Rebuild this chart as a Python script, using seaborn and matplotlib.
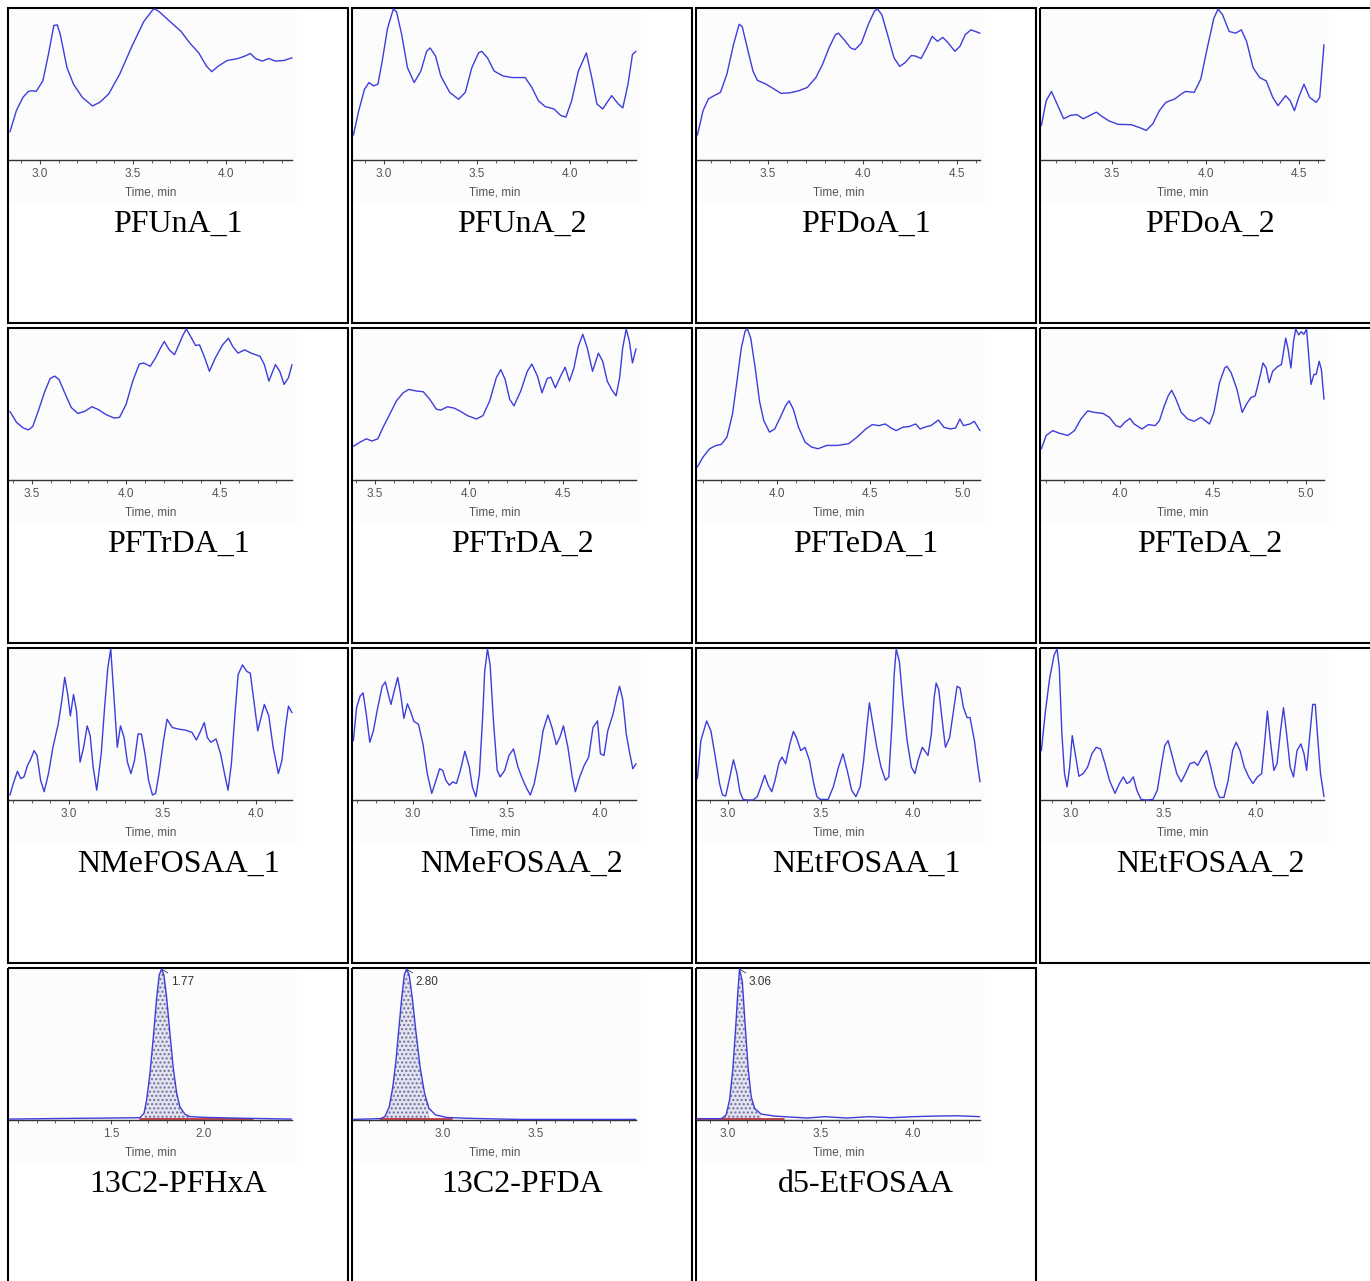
import matplotlib
matplotlib.use("Agg")
import matplotlib.pyplot as plt
from matplotlib.patches import Rectangle
from matplotlib.ticker import FixedLocator, MultipleLocator, FormatStrFormatter
import numpy as np
import seaborn as sns

# traces: time (min), intensity (% of panel max)
pfuna1_t = [2.838, 2.873, 2.908, 2.937, 2.956, 2.979, 3.015, 3.045, 3.074, 3.093, 3.109, 3.145, 3.180, 3.227,
            3.282, 3.321, 3.369, 3.428, 3.498, 3.558, 3.605, 3.617, 3.640, 3.699, 3.758, 3.805, 3.853, 3.895,
            3.923, 3.959, 4.006, 4.065, 4.101, 4.131, 4.159, 4.195, 4.230, 4.265, 4.312, 4.355]
pfuna1_i = [18.6, 32.8, 41.5, 45.4, 45.9, 45.4, 52.4, 69.9, 89.1, 89.5, 83.0, 61.1, 50.2, 41.5,
            35.8, 38.2, 43.7, 56.8, 76.4, 91.7, 99.3, 100, 98.3, 91.7, 85.2, 77.5, 71.0, 62.2,
            58.5, 62.2, 65.9, 67.2, 68.8, 70.5, 67.2, 65.5, 67.2, 65.5, 65.9, 67.7]

pfuna2_t = [2.835, 2.864, 2.895, 2.919, 2.943, 2.967, 2.990, 3.019, 3.050, 3.067, 3.095, 3.126, 3.162, 3.198,
            3.229, 3.248, 3.277, 3.305, 3.353, 3.401, 3.437, 3.472, 3.508, 3.525, 3.556, 3.592, 3.639, 3.687,
            3.759, 3.795, 3.830, 3.866, 3.914, 3.950, 3.978, 4.009, 4.045, 4.088, 4.117, 4.145, 4.176, 4.224,
            4.260, 4.284, 4.312, 4.336, 4.355]
pfuna2_i = [16.4, 32.7, 46.9, 51.3, 49.1, 50.2, 65.5, 87.3, 100, 98.2, 83.0, 61.1, 51.3, 58.9,
            72.0, 74.2, 68.8, 55.7, 44.8, 40.2, 44.8, 61.1, 70.9, 72.0, 67.7, 58.9, 55.7, 54.6,
            54.6, 48.0, 39.3, 35.4, 33.8, 29.5, 28.4, 39.3, 58.9, 70.9, 54.6, 37.1, 33.8, 42.6,
            37.1, 34.5, 50.2, 69.9, 72.0]

pfdoa1_t = [3.126, 3.156, 3.184, 3.214, 3.248, 3.282, 3.317, 3.347, 3.363, 3.386, 3.420, 3.443, 3.489, 3.524,
            3.569, 3.615, 3.661, 3.707, 3.753, 3.788, 3.822, 3.856, 3.872, 3.902, 3.937, 3.960, 3.994, 4.029,
            4.063, 4.079, 4.102, 4.132, 4.166, 4.196, 4.224, 4.258, 4.281, 4.309, 4.339, 4.368, 4.396, 4.424,
            4.453, 4.488, 4.515, 4.543, 4.573, 4.621]
pfdoa1_i = [16.4, 32.7, 40.4, 42.6, 44.8, 56.8, 76.4, 89.9, 88.4, 76.4, 58.9, 52.8, 50.2, 47.6,
            44.1, 44.5, 45.8, 48.0, 54.6, 63.3, 74.2, 83.0, 84.0, 79.7, 74.2, 73.1, 77.5, 89.5,
            98.7, 100, 96.1, 83.0, 67.7, 62.0, 64.4, 69.2, 68.8, 67.2, 74.2, 81.9, 78.6, 81.2,
            77.5, 72.0, 75.3, 83.0, 86.2, 84.0]

pfdoa2_t = [3.122, 3.148, 3.176, 3.206, 3.241, 3.276, 3.311, 3.346, 3.381, 3.416, 3.451, 3.485, 3.532, 3.602,
            3.648, 3.683, 3.718, 3.753, 3.788, 3.835, 3.870, 3.893, 3.939, 3.974, 4.009, 4.044, 4.067, 4.091,
            4.126, 4.161, 4.191, 4.219, 4.254, 4.289, 4.324, 4.359, 4.387, 4.428, 4.452, 4.475, 4.498, 4.526,
            4.556, 4.591, 4.610, 4.633]
pfdoa2_i = [22.9, 39.3, 45.4, 37.1, 27.3, 29.5, 30.1, 27.3, 29.5, 31.7, 28.4, 25.8, 23.6, 23.4,
            21.4, 19.6, 24.0, 32.7, 38.2, 40.4, 43.7, 45.4, 44.8, 53.5, 74.2, 93.9, 100, 96.1,
            85.1, 84.0, 86.2, 78.6, 61.1, 54.6, 52.4, 41.5, 36.0, 42.6, 39.3, 32.7, 41.5, 50.2,
            41.5, 38.2, 41.5, 76.4]

pftrda1_t = [3.383, 3.418, 3.453, 3.481, 3.504, 3.534, 3.569, 3.597, 3.621, 3.644, 3.674, 3.709, 3.744, 3.779,
             3.819, 3.849, 3.896, 3.938, 3.966, 4.001, 4.036, 4.071, 4.094, 4.129, 4.157, 4.188, 4.204, 4.230,
             4.258, 4.281, 4.304, 4.321, 4.344, 4.370, 4.391, 4.416, 4.444, 4.475, 4.514, 4.545, 4.568, 4.596,
             4.631, 4.666, 4.713, 4.736, 4.760, 4.795, 4.818, 4.841, 4.864, 4.883]
pftrda1_i = [45.4, 38.2, 34.5, 33.2, 35.4, 45.8, 58.9, 67.2, 68.8, 66.6, 57.8, 48.0, 44.1, 45.4,
             48.5, 46.9, 43.2, 41.0, 41.5, 50.2, 65.5, 76.8, 77.5, 75.3, 80.8, 88.4, 91.7, 86.2,
             83.0, 89.5, 96.1, 100, 95.0, 89.1, 89.5, 81.9, 72.0, 80.8, 89.5, 93.9, 88.4, 84.0,
             86.2, 84.0, 81.9, 76.4, 65.5, 76.4, 72.0, 63.3, 67.7, 76.4]

pftrda2_t = [3.385, 3.421, 3.454, 3.484, 3.515, 3.543, 3.579, 3.614, 3.650, 3.680, 3.720, 3.756, 3.791, 3.826,
             3.850, 3.885, 3.921, 3.956, 3.992, 4.039, 4.074, 4.110, 4.145, 4.169, 4.192, 4.216, 4.239, 4.275,
             4.310, 4.334, 4.364, 4.388, 4.416, 4.435, 4.459, 4.487, 4.511, 4.534, 4.558, 4.581, 4.605, 4.629,
             4.657, 4.688, 4.711, 4.735, 4.758, 4.782, 4.801, 4.817, 4.836, 4.853, 4.869, 4.888]
pftrda2_i = [22.3, 25.1, 27.3, 25.8, 27.3, 34.9, 43.7, 52.4, 57.8, 60.0, 58.9, 58.5, 53.5, 46.9,
             46.3, 48.5, 47.6, 45.4, 42.6, 40.4, 42.6, 52.4, 67.7, 73.1, 66.6, 53.5, 49.1, 58.9,
             72.0, 76.8, 68.8, 57.8, 67.2, 68.1, 61.1, 68.8, 74.7, 65.5, 74.2, 88.4, 96.5, 87.3,
             72.0, 84.0, 78.6, 65.5, 60.0, 55.7, 67.7, 87.3, 100, 91.7, 77.5, 86.9]

pfteda1_t = [3.572, 3.603, 3.638, 3.673, 3.701, 3.731, 3.761, 3.785, 3.808, 3.829, 3.841, 3.859, 3.883, 3.906,
             3.929, 3.960, 3.988, 4.018, 4.046, 4.065, 4.088, 4.116, 4.151, 4.186, 4.221, 4.268, 4.326, 4.385,
             4.431, 4.478, 4.513, 4.548, 4.583, 4.613, 4.641, 4.676, 4.711, 4.746, 4.770, 4.805, 4.828, 4.868,
             4.898, 4.933, 4.961, 4.984, 5.003, 5.038, 5.061, 5.092]
pfteda1_i = [8.7, 15.3, 20.7, 22.9, 23.6, 28.4, 43.7, 65.5, 87.3, 98.7, 100, 93.9, 74.2, 52.4,
             39.3, 31.7, 33.8, 41.5, 49.1, 52.4, 46.9, 34.9, 25.1, 21.8, 20.7, 22.9, 22.9, 24.0,
             28.4, 33.8, 36.7, 36.0, 37.1, 34.5, 32.7, 34.9, 35.4, 37.1, 33.8, 35.4, 36.0, 39.7,
             34.9, 33.8, 34.5, 40.4, 36.0, 37.1, 38.9, 32.7]

pfteda2_t = [3.577, 3.603, 3.638, 3.673, 3.720, 3.755, 3.790, 3.826, 3.861, 3.908, 3.943, 3.978, 4.001, 4.025,
             4.053, 4.076, 4.118, 4.153, 4.189, 4.212, 4.235, 4.259, 4.278, 4.301, 4.329, 4.364, 4.399, 4.435,
             4.458, 4.481, 4.505, 4.535, 4.563, 4.575, 4.598, 4.629, 4.657, 4.680, 4.704, 4.727, 4.751, 4.769,
             4.786, 4.802, 4.821, 4.849, 4.868, 4.891, 4.903, 4.919, 4.933, 4.945, 4.961, 4.975, 4.989, 5.003,
             5.013, 5.027, 5.043, 5.055, 5.071, 5.083, 5.097]
pfteda2_i = [20.7, 29.5, 32.7, 31.0, 29.5, 32.7, 40.4, 45.8, 44.8, 44.1, 41.5, 36.0, 34.9, 38.2,
             40.8, 37.1, 33.8, 36.7, 36.0, 39.3, 48.0, 55.7, 59.4, 53.5, 44.8, 40.4, 38.9, 41.5,
             39.3, 37.1, 44.8, 64.4, 74.2, 75.3, 70.9, 60.0, 44.8, 50.2, 54.6, 55.7, 67.7, 77.5,
             74.2, 64.4, 72.0, 75.3, 76.4, 93.9, 87.3, 74.2, 91.7, 100, 96.1, 98.2, 96.5, 100,
             85.1, 63.3, 69.9, 69.9, 78.6, 73.1, 53.5]

nmefosaa1_t = [2.684, 2.702, 2.724, 2.742, 2.759, 2.778, 2.796, 2.813, 2.829, 2.848, 2.867, 2.890, 2.914, 2.942,
               2.961, 2.977, 2.993, 3.007, 3.024, 3.040, 3.059, 3.078, 3.097, 3.113, 3.129, 3.148, 3.172, 3.190,
               3.207, 3.223, 3.237, 3.258, 3.275, 3.294, 3.312, 3.331, 3.350, 3.369, 3.387, 3.406, 3.425, 3.446,
               3.463, 3.481, 3.505, 3.524, 3.552, 3.587, 3.622, 3.657, 3.681, 3.704, 3.723, 3.739, 3.758, 3.786,
               3.810, 3.833, 3.850, 3.868, 3.887, 3.904, 3.927, 3.951, 3.969, 3.986, 4.009, 4.044, 4.068, 4.091,
               4.119, 4.138, 4.157, 4.173, 4.192]
nmefosaa1_i = [3.3, 10.9, 19.0, 14.2, 15.3, 22.9, 27.3, 32.7, 29.5, 13.1, 5.5, 17.5, 34.9, 50.2,
               65.5, 81.2, 69.9, 55.7, 69.9, 58.9, 25.1, 34.9, 49.1, 42.6, 21.8, 6.5, 30.6, 61.1,
               87.3, 100, 74.2, 34.9, 49.1, 41.5, 25.1, 17.5, 26.2, 43.7, 43.7, 30.6, 13.1, 3.3,
               4.4, 17.5, 39.3, 53.5, 48.0, 46.9, 46.3, 44.8, 39.7, 45.8, 51.3, 41.5, 38.2, 40.4,
               30.6, 16.4, 6.5, 24.0, 56.8, 83.0, 89.5, 85.1, 84.0, 67.7, 45.8, 63.3, 55.7, 34.9,
               17.5, 26.2, 48.0, 62.2, 57.8]

nmefosaa2_t = [2.681, 2.698, 2.717, 2.733, 2.750, 2.769, 2.788, 2.811, 2.835, 2.852, 2.868, 2.882, 2.899, 2.918,
               2.934, 2.951, 2.970, 2.986, 3.005, 3.029, 3.053, 3.076, 3.100, 3.123, 3.142, 3.159, 3.175, 3.194,
               3.213, 3.232, 3.253, 3.277, 3.301, 3.317, 3.336, 3.355, 3.372, 3.383, 3.398, 3.412, 3.431, 3.450,
               3.466, 3.490, 3.513, 3.537, 3.561, 3.584, 3.608, 3.627, 3.648, 3.672, 3.695, 3.721, 3.743, 3.766,
               3.785, 3.804, 3.828, 3.851, 3.868, 3.891, 3.915, 3.939, 3.962, 3.986, 4.002, 4.021, 4.041, 4.069,
               4.088, 4.104, 4.121, 4.140, 4.159, 4.175, 4.192]
nmefosaa2_i = [39.3, 61.1, 68.8, 70.9, 56.8, 38.2, 45.8, 61.1, 75.3, 78.2, 69.9, 63.3, 72.0, 81.2,
               69.9, 54.1, 63.7, 58.9, 52.0, 50.2, 37.1, 17.5, 4.4, 13.1, 20.7, 19.6, 13.1, 9.8,
               12.0, 10.9, 19.6, 32.3, 21.8, 8.7, 2.2, 17.5, 54.6, 85.1, 100, 89.5, 50.2, 19.6,
               15.3, 19.6, 29.5, 33.8, 21.8, 14.2, 7.6, 3.3, 10.9, 26.2, 45.8, 56.3, 48.0, 36.7,
               41.5, 49.1, 34.9, 15.3, 5.5, 15.3, 22.9, 28.4, 48.0, 52.4, 30.6, 29.5, 45.8, 56.8,
               67.7, 75.3, 66.6, 43.7, 30.6, 20.7, 24.0]

netfosaa1_t = [2.834, 2.853, 2.884, 2.907, 2.931, 2.954, 2.970, 2.987, 3.006, 3.029, 3.048, 3.064, 3.081, 3.100,
               3.135, 3.158, 3.177, 3.198, 3.217, 3.236, 3.254, 3.276, 3.292, 3.311, 3.334, 3.353, 3.369, 3.393,
               3.416, 3.440, 3.463, 3.480, 3.499, 3.541, 3.569, 3.597, 3.621, 3.644, 3.668, 3.691, 3.714, 3.733,
               3.752, 3.764, 3.780, 3.804, 3.827, 3.851, 3.869, 3.886, 3.898, 3.909, 3.926, 3.945, 3.968, 3.991,
               4.010, 4.027, 4.050, 4.081, 4.099, 4.114, 4.125, 4.139, 4.156, 4.175, 4.198, 4.221, 4.238, 4.254,
               4.273, 4.292, 4.308, 4.332, 4.348, 4.362]
netfosaa1_i = [14.2, 39.3, 52.4, 45.8, 28.4, 10.9, 3.3, 2.6, 13.1, 26.6, 17.5, 5.5, 0.4, 0.0,
               0.0, 2.2, 8.7, 16.4, 9.8, 5.5, 13.1, 25.1, 28.4, 24.0, 37.1, 45.4, 41.5, 32.7,
               34.9, 26.2, 10.9, 2.2, 0.4, 0.4, 8.7, 21.8, 30.6, 19.6, 6.5, 2.2, 8.7, 26.2,
               50.2, 64.4, 52.4, 34.9, 21.8, 13.1, 15.3, 50.2, 83.0, 100, 91.7, 65.5, 39.3, 21.8,
               17.5, 26.2, 34.9, 29.5, 43.7, 67.7, 77.5, 73.1, 54.6, 34.9, 41.5, 61.1, 75.3, 74.2,
               61.1, 54.6, 54.6, 39.3, 24.0, 12.0]

netfosaa2_t = [2.840, 2.862, 2.885, 2.909, 2.925, 2.937, 2.951, 2.965, 2.979, 2.993, 3.007, 3.026, 3.043, 3.066,
               3.090, 3.113, 3.137, 3.160, 3.184, 3.208, 3.238, 3.262, 3.283, 3.302, 3.318, 3.337, 3.356, 3.379,
               3.408, 3.443, 3.467, 3.490, 3.507, 3.525, 3.549, 3.572, 3.596, 3.619, 3.643, 3.667, 3.685, 3.709,
               3.733, 3.756, 3.780, 3.803, 3.827, 3.850, 3.874, 3.893, 3.914, 3.937, 3.961, 3.984, 4.008, 4.031,
               4.048, 4.062, 4.078, 4.097, 4.114, 4.133, 4.149, 4.166, 4.185, 4.203, 4.222, 4.243, 4.260, 4.274,
               4.290, 4.307, 4.321, 4.335, 4.349, 4.368]
netfosaa2_i = [32.7, 58.9, 80.8, 96.1, 100, 87.3, 43.7, 17.5, 8.7, 21.8, 42.6, 28.4, 15.7, 17.5,
               21.8, 30.6, 34.9, 33.8, 24.0, 13.1, 4.4, 10.9, 15.3, 10.9, 12.0, 15.3, 6.5, 0.4,
               0.0, 0.4, 6.5, 24.0, 36.0, 39.3, 28.4, 17.5, 12.0, 17.5, 24.0, 25.1, 22.9, 28.4,
               32.7, 21.8, 8.7, 1.7, 1.7, 13.1, 32.7, 38.2, 32.7, 21.8, 15.3, 10.9, 15.3, 17.5,
               39.3, 58.9, 39.3, 19.6, 24.0, 45.8, 61.1, 43.7, 21.8, 15.3, 32.7, 37.1, 30.6, 19.6,
               41.5, 63.3, 63.3, 39.3, 17.5, 2.2]

pfhxa_t = [0.955, 1.226, 1.656, 1.678, 1.692, 1.710, 1.728, 1.746, 1.760, 1.773, 1.785, 1.800, 1.818, 1.835,
           1.854, 1.871, 1.898, 1.925, 2.015, 2.156, 2.470]
pfhxa_i = [0.6, 1.0, 1.5, 4.4, 13.1, 30.6, 54.6, 80.8, 96.1, 100, 96.1, 80.8, 56.8, 34.9,
           17.5, 8.7, 3.9, 2.2, 1.7, 1.3, 0.6]

pfda_t = [2.518, 2.663, 2.687, 2.711, 2.730, 2.747, 2.763, 2.778, 2.792, 2.804, 2.818, 2.835, 2.854, 2.877,
          2.901, 2.925, 2.961, 3.020, 3.139, 3.401, 4.036]
pfda_i = [0.4, 0.9, 2.2, 8.7, 21.8, 39.3, 61.1, 80.8, 96.1, 100, 96.1, 80.8, 58.9, 34.9,
          17.5, 7.6, 3.3, 1.7, 1.1, 0.4, 0.4]

d5etfosaa_t = [2.834, 2.965, 2.989, 3.008, 3.025, 3.041, 3.053, 3.062, 3.077, 3.091, 3.108, 3.125, 3.144,
               3.179, 3.251, 3.370, 3.428, 3.523, 3.642, 3.761, 3.881, 4.000, 4.119, 4.238, 4.360]
d5etfosaa_i = [0.9, 0.9, 3.3, 13.1, 32.7, 61.1, 85.1, 100, 91.7, 65.5, 34.9, 15.3, 7.6,
               3.9, 2.6, 1.7, 1.3, 2.2, 1.3, 2.2, 1.5, 2.2, 2.6, 2.8, 2.2]

names = ["PFUnA_1", "PFUnA_2", "PFDoA_1", "PFDoA_2",
         "PFTrDA_1", "PFTrDA_2", "PFTeDA_1", "PFTeDA_2",
         "NMeFOSAA_1", "NMeFOSAA_2", "NEtFOSAA_1", "NEtFOSAA_2",
         "13C2-PFHxA", "13C2-PFDA", "d5-EtFOSAA"]
traces = [(pfuna1_t, pfuna1_i), (pfuna2_t, pfuna2_i), (pfdoa1_t, pfdoa1_i), (pfdoa2_t, pfdoa2_i),
          (pftrda1_t, pftrda1_i), (pftrda2_t, pftrda2_i), (pfteda1_t, pfteda1_i), (pfteda2_t, pfteda2_i),
          (nmefosaa1_t, nmefosaa1_i), (nmefosaa2_t, nmefosaa2_i), (netfosaa1_t, netfosaa1_i),
          (netfosaa2_t, netfosaa2_i), (pfhxa_t, pfhxa_i), (pfda_t, pfda_i), (d5etfosaa_t, d5etfosaa_i)]
x_ranges = [(2.833, 4.355), (2.833, 4.355), (3.124, 4.621), (3.120, 4.633),
            (3.378, 4.883), (3.383, 4.888), (3.570, 5.092), (3.575, 5.097),
            (2.679, 4.192), (2.679, 4.192), (2.832, 4.362), (2.838, 4.368),
            (0.952, 2.474), (2.516, 4.038), (2.832, 4.362)]
tick_values = [[3.0, 3.5, 4.0], [3.0, 3.5, 4.0], [3.5, 4.0, 4.5], [3.5, 4.0, 4.5],
               [3.5, 4.0, 4.5], [3.5, 4.0, 4.5], [4.0, 4.5, 5.0], [4.0, 4.5, 5.0],
               [3.0, 3.5, 4.0], [3.0, 3.5, 4.0], [3.0, 3.5, 4.0], [3.0, 3.5, 4.0],
               [1.5, 2.0], [3.0, 3.5], [3.0, 3.5, 4.0]]

# internal standards (last three panels): integrated window, baseline, retention time
std_windows = [(1.665, 1.93), (2.66, 2.96), (2.96, 3.18)]
std_baselines = [(1.656, 2.264), (2.66, 3.05), (2.834, 3.30)]
std_rt = [1.773, 2.804, 3.062]
std_rt_labels = ["1.77", "2.80", "3.06"]

W, H = 1370, 1281
sns.set_style("white")
plt.rcParams["font.family"] = ["Liberation Sans", "DejaVu Sans"]

fig = plt.figure(figsize=(W / 100, H / 100), dpi=100)
canvas = fig.add_axes([0, 0, 1, 1])
canvas.set_xlim(0, W)
canvas.set_ylim(H, 0)
canvas.axis("off")

line_col = "#3d3ddb"

for k, name in enumerate(names):
    r, c = divmod(k, 4)
    L = 8 + 344 * c
    T = 8 + 320 * r

    # table cell and chromatogram image area
    canvas.add_patch(Rectangle((L + 1, T + 1), 288, 193, fc="#fcfcfd", ec="none", zorder=0))
    canvas.add_patch(Rectangle((L + 0.3, T - 0.3), 340, 315, fill=False, ec="black", lw=1.5, zorder=1))
    canvas.text(L + 170, T + 224, name, ha="center", va="baseline", fontsize=23,
                family="Liberation Serif", color="black")

    ax = fig.add_axes([(L + 1) / W, 1 - (T + 152) / H, 283 / W, 151 / H])
    ax.set_facecolor("none")
    t, y = traces[k]
    t0, t1 = x_ranges[k]

    if k >= 12:
        j = k - 12
        ta, ya = np.array(t), np.array(y)
        a, b = std_windows[j]
        m = (ta >= a) & (ta <= b)
        ax.fill_between(ta[m], ya[m], 0.5, facecolor="#e2e2f0", edgecolor="#707098",
                        hatch="....", lw=0, zorder=1)
        ba, bb = std_baselines[j]
        ax.plot([ba, bb], [0.6, 0.6], color="#c0262a", lw=1.2, zorder=2)
        ax.annotate(std_rt_labels[j], xy=(std_rt[j], 100), xytext=(6.5, -9.5),
                    textcoords="offset points", fontsize=8.5, color="#333333",
                    ha="left", va="center", annotation_clip=False,
                    arrowprops=dict(arrowstyle="-", lw=0.6, color="#333333",
                                    shrinkA=0, shrinkB=0))

    sns.lineplot(x=t, y=y, ax=ax, color=line_col, linewidth=1.0,
                 estimator=None, sort=False, legend=False, zorder=3)
    for ln in ax.lines:
        ln.set_clip_on(False)

    ax.set_xlim(t0, t1)
    ax.set_ylim(0, 100)
    for s in ["top", "left", "right"]:
        ax.spines[s].set_visible(False)
    ax.spines["bottom"].set_color("#333333")
    ax.spines["bottom"].set_linewidth(1.0)
    ax.set_yticks([])
    ax.xaxis.set_major_locator(FixedLocator(tick_values[k]))
    ax.xaxis.set_major_formatter(FormatStrFormatter("%.1f"))
    ax.xaxis.set_minor_locator(MultipleLocator(0.1))
    ax.tick_params(axis="x", which="major", bottom=True, direction="out", length=3, width=0.8,
                   color="#444444", labelsize=8.5, labelcolor="#555555", pad=2.5)
    ax.tick_params(axis="x", which="minor", bottom=True, direction="out", length=2, width=0.6,
                   color="#444444")
    ax.set_xlabel("Time, min", fontsize=8.5, color="#555555", labelpad=5)
    ax.set_ylabel("")

fig.savefig("out.png", dpi=100)
